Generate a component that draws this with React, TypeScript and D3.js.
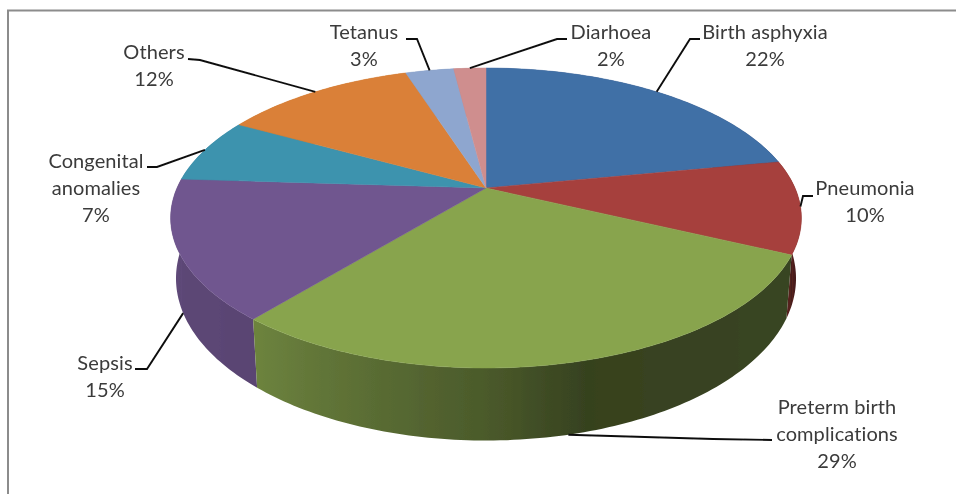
import * as d3 from "d3";
import React from "react";

const categories = [
  "Birth asphyxia",
  "Pneumonia",
  "Preterm birth complications",
  "Sepsis",
  "Congenital anomalies",
  "Others",
  "Tetanus",
  "Diarhoea",
];
const shares = [22, 10, 29, 15, 7, 12, 3, 2];
const colors = ["#416fa6", "#a6403d", "#88a44e", "#70568f", "#3e93ae", "#da8037", "#8ea6cf", "#cf8e8e"];

// label text lines, split the way the chart wraps them
const labelLines = [
  ["Birth asphyxia"],
  ["Pneumonia"],
  ["Preterm birth", "complications"],
  ["Sepsis"],
  ["Congenital", "anomalies"],
  ["Others"],
  ["Tetanus"],
  ["Diarhoea"],
];

// where each label sits and how its leader line bends
const labelX = [765, 865, 837, 105, 96, 154, 364, 611];
const labelY = [39, 195, 414, 370, 168, 59, 39, 39];
const leaderBends: number[][][] = [
  [[690, 39], [700, 39]],
  [[803, 196], [813, 196]],
  [[713, 439], [772, 440]],
  [[147, 369], [135, 369]],
  [[157, 167], [147, 167]],
  [[200, 60], [188, 59]],
  [[417, 39], [406, 39]],
  [[557, 39], [567, 39]],
];
const leaderOnWall = [false, false, true, true, false, false, false, false];

const width = 956;
const height = 494;
const cx = 486;
const cy = 188;
const radiusX = 309;
const radiusY = 144;
const persp = 0.2; // near edge of the disc looks larger
const depth = 58;
const bottomShrink = 0.983;

// angle is clockwise from 12 o'clock, layer 0 = top face, 1 = bottom edge
const project = (angle: number, layer = 0): [number, number] => {
  const X = Math.sin(angle);
  const Y = Math.cos(angle);
  const w = 1 + persp * Y;
  const k = layer ? bottomShrink : 1;
  return [cx + (radiusX * k * X) / w, cy - (radiusY * Y) / w + (layer * depth) / w];
};

const deg = Math.PI / 180;

// how dark the side wall gets around the disc
const wallShade = d3
  .scaleLinear()
  .domain([90, 115, 165, 180, 219, 273, 360].map((d) => d * deg))
  .range([0.5, 0.42, 0.4, 0.55, 0.8, 0.85, 0.85]);

const shade = (color: string, f: number) => {
  const c = d3.rgb(color);
  return d3.rgb(c.r * f, c.g * f, c.b * f).formatHex();
};

const arcs = d3
  .pie<number>()
  .sort(null)
  .value((d) => d)(shares);

const line = d3.line();

const sampleAngles = (a0: number, a1: number) => {
  const n = Math.max(2, Math.ceil((a1 - a0) / deg));
  return d3.range(n + 1).map((i) => a0 + ((a1 - a0) * i) / n);
};

// walls painted from the back of the disc to the front
const walls = arcs
  .map((arc, i) => {
    const angles = sampleAngles(arc.startAngle, arc.endAngle);
    const xs = angles.map((a) => project(a)[0]);
    const [x0, x1] = d3.extent(xs) as [number, number];
    const stops = angles
      .map((a, j) => ({
        offset: (xs[j] - x0) / Math.max(1, x1 - x0),
        color: shade(colors[i], wallShade(a)),
      }))
      .sort((p, q) => p.offset - q.offset);
    const d =
      line([...angles.map((a) => project(a)), ...[...angles].reverse().map((a) => project(a, 1))]) + "Z";
    const mid = (arc.startAngle + arc.endAngle) / 2;
    return { i, x0, x1, stops, d, mid };
  })
  .sort((p, q) => Math.cos(q.mid) - Math.cos(p.mid));

const font = "Lato, 'Open Sans', sans-serif";

export default function App() {
  return (
    <svg
      width={width}
      height={height}
      style={{ position: "absolute", left: 0, top: 0, background: "#fff" }}
    >
      <defs>
        <filter id="soft" x="-5%" y="-5%" width="110%" height="110%">
          <feGaussianBlur stdDeviation={0.45} />
        </filter>
        {walls.map((w) => (
          <linearGradient key={w.i} id={`wall${w.i}`} gradientUnits="userSpaceOnUse" x1={w.x0} x2={w.x1} y1={0} y2={0}>
            {w.stops.map((s, j) => (
              <stop key={j} offset={s.offset} stopColor={s.color} />
            ))}
          </linearGradient>
        ))}
      </defs>
      <path d={`M8,${height}V10.5H${width}`} fill="none" stroke="#8c8c8c" strokeWidth={2} />
      <g filter="url(#soft)">
        <g>
          {walls.map((w) => (
            <path key={w.i} d={w.d} fill={`url(#wall${w.i})`} />
          ))}
        </g>
        <g>
          {arcs.map((arc, i) => (
            <path
              key={i}
              d={line([[cx, cy], ...sampleAngles(arc.startAngle, arc.endAngle).map((a) => project(a))]) + "Z"}
              fill={colors[i]}
              stroke={colors[i]}
              strokeWidth={0.5}
            />
          ))}
        </g>
        <g fill="none" stroke="#111" strokeWidth={1.9}>
          {arcs.map((arc, i) => {
            const mid = (arc.startAngle + arc.endAngle) / 2;
            const anchor = project(mid, leaderOnWall[i] ? 1 : 0);
            return <path key={i} d={line([anchor, ...(leaderBends[i] as [number, number][])]) ?? ""} />;
          })}
        </g>
        <g fontFamily={font} fontSize={20} letterSpacing={0.1} fill="#3a3a3a" textAnchor="middle">
          {categories.map((name, i) => (
            <text key={name} x={labelX[i]} y={labelY[i]}>
              {[...labelLines[i], `${shares[i]}%`].map((t, j) => (
                <tspan key={j} x={labelX[i]} y={labelY[i] + j * 27}>
                  {t}
                </tspan>
              ))}
            </text>
          ))}
        </g>
      </g>
    </svg>
  );
}
